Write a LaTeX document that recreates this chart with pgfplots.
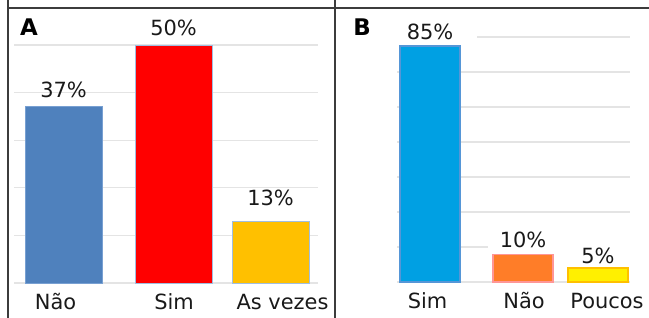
\documentclass[border=0pt]{standalone}
\usepackage{pgfplots}
\pgfplotsset{compat=1.18}
\usepackage{fontspec}
\setmainfont{DejaVu Sans}
\definecolor{gridc}{RGB}{228,228,228}
\definecolor{frame}{RGB}{60,60,60}
\definecolor{aBlue}{RGB}{79,129,189}
\definecolor{aBlueE}{RGB}{120,160,210}
\definecolor{aEdge}{RGB}{160,190,225}
\definecolor{aGold}{RGB}{255,192,0}
\definecolor{bBlue}{RGB}{0,160,227}
\definecolor{bBlueE}{RGB}{85,150,215}
\definecolor{bOrange}{RGB}{255,125,40}
\definecolor{bOrangeE}{RGB}{255,150,150}
\definecolor{bYellow}{RGB}{255,240,0}
\definecolor{bYellowE}{RGB}{255,192,0}
\definecolor{txt}{RGB}{25,25,25}
\begin{document}
\begin{tikzpicture}
\pgfplotsset{
  panel/.style={
    scale only axis, clip=false,
    /pgf/number format/assume math mode=true,
    axis line style={draw=none},
    tick style={draw=none},
    major tick length=0pt,
    yticklabels={},
    ymajorgrids, grid style={gridc, line width=1.3bp},
    ybar, bar shift=0pt,
    xticklabel style={anchor=base, yshift=-26bp, font=\fontsize{21}{24}\selectfont, text=txt},
    nodes near coords={\pgfmathprintnumber{\pgfplotspointmeta}\%},
    point meta=y,
    every node near coord/.append style={anchor=base, font=\fontsize{21}{24}\selectfont, text=txt},
  }
}
% Panel A
\begin{axis}[panel,
  at={(14bp,35bp)}, anchor=south west,
  width=304bp, height=238bp,
  xmin=0.14, xmax=3.18, ymin=0, ymax=50,
  ytick={0,10,20,30,40,50},
  xtick={0.555,1.74,2.825},
  xticklabels={Não, Sim, As vezes},
  bar width=77bp,
]
\addplot[fill=aBlue, draw=aBlueE, line width=0.8bp,
  every node near coord/.append style={yshift=9bp}] coordinates {(0.635,37)};
\addplot[fill=red, draw=aEdge, line width=0.8bp,
  every node near coord/.append style={yshift=9bp}] coordinates {(1.735,50)};
\addplot[fill=aGold, draw=aEdge, line width=0.8bp,
  every node near coord/.append style={yshift=16bp}] coordinates {(2.705,13)};
\end{axis}
% Panel B
\begin{axis}[panel,
  at={(397bp,36bp)}, anchor=south west,
  width=233bp, height=245bp,
  xmin=3.97, xmax=6.30, ymin=0, ymax=88.3,
  ytick={0,25.23,37.84,50.46,63.07,75.69},
  xtick={4.275,5.24,6.07},
  xticklabels={Sim, Não, Poucos},
  bar width=60bp,
]
\draw[gridc, line width=1.3bp] (axis cs:3.97,12.61) -- (axis cs:4.88,12.61);
\draw[gridc, line width=1.3bp] (axis cs:4.77,88.3) -- (axis cs:6.30,88.3);
\addplot[fill=bBlue, draw=bBlueE, line width=2.5bp,
  every node near coord/.append style={yshift=7bp}] coordinates {(4.30,85)};
\addplot[fill=bOrange, draw=bOrangeE, line width=1.5bp,
  every node near coord/.append style={yshift=7bp}] coordinates {(5.23,10)};
\addplot[fill=bYellow, draw=bYellowE, line width=2.5bp,
  every node near coord/.append style={yshift=5bp}] coordinates {(5.98,5)};
\end{axis}
% frame
\draw[frame, line width=1.5bp] (8bp,318bp) -- (8bp,310bp) -- (649bp,310bp);
\draw[frame, line width=1.5bp] (335bp,310bp) -- (335bp,318bp);
\draw[frame, line width=1.5bp] (8bp,310bp) -- (8bp,0bp);
\draw[frame, line width=1.5bp] (335bp,310bp) -- (335bp,0bp);
\node[font=\bfseries\fontsize{23}{26}\selectfont, anchor=base] at (29bp,282bp) {A};
\node[font=\bfseries\fontsize{23}{26}\selectfont, anchor=base] at (362bp,282bp) {B};
\pgfresetboundingbox
\path[use as bounding box] (0bp,0bp) rectangle (649bp,318bp);
\end{tikzpicture}
\end{document}
